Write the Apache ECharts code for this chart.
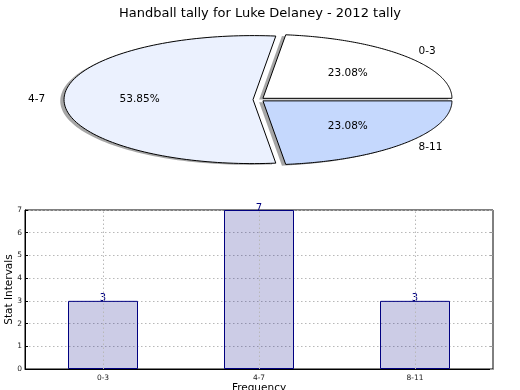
<!DOCTYPE html>
<html>
<head>
<meta charset="utf-8">
<script src="https://cdn.jsdelivr.net/npm/echarts@6/dist/echarts.min.js"></script>
<style>html,body{margin:0;padding:0;background:#fff}#c{width:520px;height:390px}</style>
</head>
<body>
<div id="c"></div>
<script>
var titleText = 'Handball tally for Luke Delaney - 2012 tally';
var categories = ['0-3', '4-7', '8-11'];
var values = [3, 7, 3];
var yTicks = [0, 1, 2, 3, 4, 5, 6, 7];
var xAxisName = 'Frequency';
var yAxisName = 'Stat Intervals';

var sliceColors = ['#ffffff', '#ebf1fe', '#c5d8fd'];
var FONT = 'DejaVu Sans';
var total = values.reduce(function (a, b) { return a + b; }, 0);

// Pie geometry (matplotlib-style stretched pie)
var PC = { cx: 258.7, cy: 99.6, rx: 189, ry: 64, explode: 0.03 };

function pieItem(params, api) {
  var i = params.dataIndex;
  var cum = 0;
  for (var k = 0; k < i; k++) cum += values[k];
  var v = api.value(0);
  var t1 = 2 * Math.PI * cum / total;
  var t2 = 2 * Math.PI * (cum + v) / total;
  var tm = (t1 + t2) / 2;
  var ox = PC.cx + PC.explode * PC.rx * Math.cos(tm);
  var oy = PC.cy - PC.explode * PC.ry * Math.sin(tm);
  function poly(dx, dy) {
    var pts = [[ox + dx, oy + dy]];
    var n = 120;
    for (var s = 0; s <= n; s++) {
      var t = t1 + (t2 - t1) * s / n;
      pts.push([ox + dx + PC.rx * Math.cos(t), oy + dy - PC.ry * Math.sin(t)]);
    }
    return pts;
  }
  var lx = ox + 1.1 * PC.rx * Math.cos(tm);
  var ly = oy - 1.1 * PC.ry * Math.sin(tm);
  var px = ox + 0.6 * PC.rx * Math.cos(tm);
  var py = oy - 0.6 * PC.ry * Math.sin(tm);
  return {
    type: 'group',
    children: [
      { type: 'polygon', z2: 1, shape: { points: poly(-0.02 * PC.rx, 0.02 * PC.ry) },
        style: { fill: 'rgba(77,77,77,0.5)', stroke: 'none' } },
      { type: 'polygon', z2: 10, shape: { points: poly(0, 0) },
        style: { fill: sliceColors[i], stroke: '#000', lineWidth: 1 } },
      { type: 'text', z2: 20, x: lx, y: ly,
        style: { text: categories[i], font: '10.5px ' + FONT, fill: '#000',
          align: Math.cos(tm) > 0 ? 'left' : 'right', verticalAlign: 'middle' } },
      { type: 'text', z2: 20, x: px, y: py,
        style: { text: (100 * v / total).toFixed(2) + '%', font: '10.5px ' + FONT, fill: '#000',
          align: 'center', verticalAlign: 'middle' } }
    ]
  };
}

var chart = echarts.init(document.getElementById('c'), null, { renderer: 'canvas' });
var gridLine = { show: true, lineStyle: { color: '#b8b8b8', type: [1.5, 2.5], width: 1 } };
chart.setOption({
  animation: false,
  backgroundColor: '#fff',
  textStyle: { fontFamily: FONT },
  title: {
    text: titleText, left: 'center', top: 2,
    textStyle: { fontFamily: FONT, fontSize: 13, fontWeight: 'normal', color: '#000' }
  },
  grid: { left: 25, right: 27, top: 210, bottom: 21, containLabel: false, outerBoundsMode: 'none',
    show: true, borderColor: '#000', borderWidth: 1, backgroundColor: 'transparent' },
  xAxis: {
    type: 'category', data: categories, boundaryGap: true,
    name: xAxisName, nameLocation: 'middle', nameGap: 14, nameMoveOverlap: false,
    nameTextStyle: { fontFamily: FONT, fontSize: 10.5, color: '#000' },
    axisLine: { show: true, lineStyle: { color: '#000', width: 1 } },
    axisTick: { show: false },
    axisLabel: { fontFamily: FONT, fontSize: 7.5, color: '#222', margin: 5 },
    splitLine: { show: false }
  },
  yAxis: [{
    type: 'value', min: 0, max: 7, interval: 1,
    name: yAxisName, nameLocation: 'middle', nameGap: 10, nameMoveOverlap: false,
    nameTextStyle: { fontFamily: FONT, fontSize: 10.5, color: '#000' },
    axisLine: { show: true, lineStyle: { color: '#000', width: 1 } },
    axisTick: { show: true, inside: true, length: 3, lineStyle: { color: '#000' } },
    axisLabel: { fontFamily: FONT, fontSize: 7.5, color: '#222', margin: 3,
      formatter: function (v) { return yTicks.indexOf(v) >= 0 ? String(v) : ''; } },
    splitLine: gridLine
  }, {
    type: 'value', min: 0, max: 7, interval: 1, position: 'right',
    axisLine: { show: false },
    axisTick: { show: true, inside: true, length: 3, lineStyle: { color: '#999' } },
    axisLabel: { show: false },
    splitLine: { show: false }
  }],
  series: [{
    type: 'custom',
    coordinateSystem: 'none',
    renderItem: pieItem,
    data: values.map(function (v) { return [v]; }),
    silent: true
  }, {
    type: 'bar',
    data: values,
    barWidth: 70,
    itemStyle: { color: 'rgba(0,0,128,0.2)', borderColor: '#000080', borderWidth: 1 },
    label: { show: true, position: 'top', distance: -3, color: '#000080', fontFamily: FONT, fontSize: 10 },
    markLine: {
      silent: true, symbol: 'none', label: { show: false },
      lineStyle: { color: '#b8b8b8', type: [1.5, 2.5], width: 1 },
      data: categories.map(function (c) { return { xAxis: c }; })
    }
  }]
});
</script>
</body>
</html>
